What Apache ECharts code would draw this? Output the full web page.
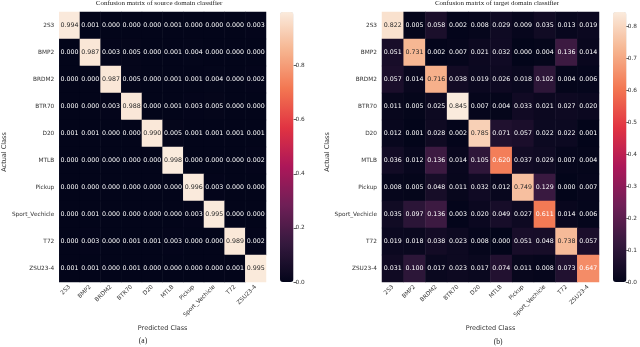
<!DOCTYPE html>
<html>
<head>
<meta charset="utf-8">
<script src="https://cdn.jsdelivr.net/npm/echarts@6/dist/echarts.min.js"></script>
<style>
  html, body { margin: 0; padding: 0; background: #fff; }
  #chart { width: 640px; height: 347px; }
</style>
</head>
<body>
<div id="chart"></div>
<script>
const classes = ['2S3', 'BMP2', 'BRDM2', 'BTR70', 'D20', 'MTLB', 'Pickup', 'Sport_Vechicle', 'T72', 'ZSU23-4']

// rows = actual class, columns = predicted class
const sourceMatrix = [
  [0.994, 0.001, 0.000, 0.000, 0.000, 0.001, 0.000, 0.000, 0.000, 0.003],
  [0.000, 0.987, 0.003, 0.005, 0.000, 0.001, 0.004, 0.000, 0.000, 0.000],
  [0.000, 0.000, 0.987, 0.005, 0.000, 0.001, 0.001, 0.004, 0.000, 0.002],
  [0.000, 0.000, 0.003, 0.988, 0.000, 0.001, 0.003, 0.005, 0.000, 0.000],
  [0.001, 0.001, 0.000, 0.000, 0.990, 0.005, 0.001, 0.001, 0.001, 0.001],
  [0.000, 0.000, 0.000, 0.000, 0.000, 0.998, 0.000, 0.000, 0.000, 0.002],
  [0.000, 0.000, 0.000, 0.000, 0.000, 0.000, 0.996, 0.003, 0.000, 0.000],
  [0.000, 0.001, 0.000, 0.000, 0.000, 0.000, 0.003, 0.995, 0.000, 0.000],
  [0.000, 0.003, 0.000, 0.001, 0.001, 0.003, 0.000, 0.000, 0.989, 0.002],
  [0.001, 0.001, 0.000, 0.001, 0.000, 0.000, 0.000, 0.000, 0.001, 0.995]
]

const targetMatrix = [
  [0.822, 0.005, 0.058, 0.002, 0.008, 0.029, 0.009, 0.035, 0.013, 0.019],
  [0.051, 0.731, 0.002, 0.007, 0.021, 0.032, 0.000, 0.004, 0.136, 0.014],
  [0.057, 0.014, 0.716, 0.038, 0.019, 0.026, 0.018, 0.102, 0.004, 0.006],
  [0.011, 0.005, 0.025, 0.845, 0.007, 0.004, 0.033, 0.021, 0.027, 0.020],
  [0.012, 0.001, 0.028, 0.002, 0.785, 0.071, 0.057, 0.022, 0.022, 0.001],
  [0.036, 0.012, 0.136, 0.014, 0.105, 0.620, 0.037, 0.029, 0.007, 0.004],
  [0.008, 0.005, 0.048, 0.011, 0.032, 0.012, 0.749, 0.129, 0.000, 0.007],
  [0.035, 0.097, 0.136, 0.003, 0.020, 0.049, 0.027, 0.611, 0.014, 0.006],
  [0.019, 0.018, 0.038, 0.023, 0.008, 0.000, 0.051, 0.048, 0.738, 0.057],
  [0.031, 0.100, 0.017, 0.023, 0.017, 0.074, 0.011, 0.008, 0.073, 0.647]
]

const sourceTicks = [0, 0.2, 0.4, 0.6, 0.8]
const targetTicks = [0, 0.1, 0.2, 0.3, 0.4, 0.5, 0.6, 0.7, 0.8]
const sourceTickLabels = ['0.0', '0.2', '0.4', '0.6', '0.8']
const targetTickLabels = ['0.0', '0.1', '0.2', '0.3', '0.4', '0.5', '0.6', '0.7', '0.8']

// seaborn "rocket"
const rocket = ['#03051a', '#35193e', '#701f57', '#ad1759', '#e13342', '#f37651', '#f6b48f', '#faebdd']

const SANS = 'DejaVu Sans'
const SERIF = 'Liberation Serif'

function matMax (m) {
  return Math.max(...m.map(r => Math.max(...r)))
}

function toCells (m, max) {
  const cells = []
  m.forEach((row, y) => {
    row.forEach((v, x) => {
      cells.push({
        value: [x, y, v],
        label: { color: v / max > 0.8 ? '#262626' : '#ffffff' }
      })
    })
  })
  return cells
}

const sourceMax = matMax(sourceMatrix)
const targetMax = matMax(targetMatrix)

function heatGrid (left) {
  return { left: left, top: 12, width: 217, height: 270 }
}

function classX (gridIndex) {
  return {
    type: 'category',
    gridIndex: gridIndex,
    data: classes,
    axisLine: { show: false },
    axisTick: { show: false },
    splitArea: { show: false },
    axisLabel: { rotate: 45, margin: 4, fontSize: 5.8, fontFamily: SANS, color: '#333', interval: 0 },
    name: 'Predicted Class',
    nameLocation: 'middle',
    nameGap: 42,
    nameTextStyle: { fontSize: 6.5, fontFamily: SANS, color: '#333' }
  }
}

function classY (gridIndex) {
  return {
    type: 'category',
    gridIndex: gridIndex,
    data: classes,
    inverse: true,
    axisLine: { show: false },
    axisTick: { show: false },
    splitArea: { show: false },
    axisLabel: { margin: 5, fontSize: 5.8, fontFamily: SANS, color: '#333', interval: 0 },
    name: 'Actual Class',
    nameLocation: 'middle',
    nameGap: 38,
    nameTextStyle: { fontSize: 6.5, fontFamily: SANS, color: '#333', padding: [0, 10, 0, 0] }
  }
}

function barX (gridIndex) {
  return { type: 'category', gridIndex: gridIndex, data: [''], show: false }
}

function barY (gridIndex, max, ticks, labels) {
  return {
    type: 'value',
    gridIndex: gridIndex,
    position: 'right',
    min: 0,
    max: max,
    splitLine: { show: false },
    axisLine: { show: false },
    axisTick: { show: true, length: 3, customValues: ticks, lineStyle: { color: '#333', width: 0.8 } },
    axisLabel: {
      margin: 2,
      fontSize: 5.8,
      fontFamily: SANS,
      color: '#333',
      customValues: ticks,
      formatter: v => labels[ticks.findIndex(t => Math.abs(t - v) < 1e-6)]
    }
  }
}

function colorBar (left, max, seriesIndex) {
  return {
    type: 'continuous',
    seriesIndex: seriesIndex,
    min: 0,
    max: max,
    left: left,
    top: 12,
    padding: 0,
    itemWidth: 13.5,
    itemHeight: 270,
    calculable: false,
    hoverLink: false,
    text: null,
    inRange: { color: rocket }
  }
}

function heatSeries (i, m, max) {
  return {
    type: 'heatmap',
    xAxisIndex: i,
    yAxisIndex: i,
    data: toCells(m, max),
    label: {
      show: true,
      fontSize: 6.3,
      fontFamily: SANS,
      formatter: p => p.value[2].toFixed(3)
    },
    emphasis: { disabled: true }
  }
}

const chart = echarts.init(document.getElementById('chart'), null, { renderer: 'canvas' })

chart.setOption({
  animation: false,
  backgroundColor: '#fff',
  title: [
    { text: 'Confusion matrix of source domain classifier', left: 159, top: 0, padding: 0, textAlign: 'center',
      textStyle: { fontFamily: SERIF, fontSize: 7, fontWeight: 'normal', color: '#222' } },
    { text: 'Confusion matrix of target domain classifier', left: 497, top: 0, padding: 0, textAlign: 'center',
      textStyle: { fontFamily: SERIF, fontSize: 7, fontWeight: 'normal', color: '#222' } },
    { text: '(a)', left: 143, top: 337, padding: 0, textAlign: 'center',
      textStyle: { fontFamily: SERIF, fontSize: 7.5, fontWeight: 'normal', color: '#222' } },
    { text: '(b)', left: 498, top: 338, padding: 0, textAlign: 'center',
      textStyle: { fontFamily: SERIF, fontSize: 7.5, fontWeight: 'normal', color: '#222' } }
  ],
  grid: [
    heatGrid(49),
    heatGrid(382),
    { left: 280, top: 12, width: 13.5, height: 270 },
    { left: 613, top: 12, width: 13.5, height: 270 }
  ],
  xAxis: [classX(0), classX(1), barX(2), barX(3)],
  yAxis: [
    classY(0),
    classY(1),
    barY(2, sourceMax, sourceTicks, sourceTickLabels),
    barY(3, targetMax, targetTicks, targetTickLabels)
  ],
  visualMap: [
    colorBar(280, sourceMax, 0),
    colorBar(613, targetMax, 1)
  ],
  series: [
    heatSeries(0, sourceMatrix, sourceMax),
    heatSeries(1, targetMatrix, targetMax)
  ]
})
</script>
</body>
</html>
